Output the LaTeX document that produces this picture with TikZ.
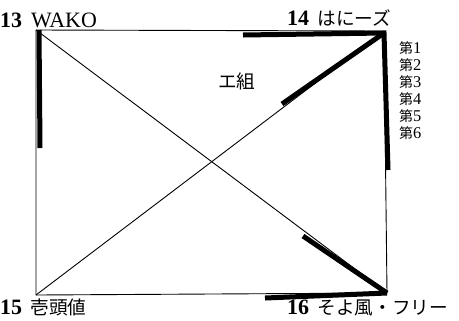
\documentclass[tikz,border=0pt]{standalone}
\usepackage{fontspec}
\setmainfont{Liberation Serif}
\newfontfamily\jp{Noto Sans CJK JP}[Scale=0.85]
\begin{document}
\begin{tikzpicture}[x=1bp, y=-1bp,
    team/.style={anchor=base west, inner sep=0pt, font=\fontsize{22}{24}\selectfont},
    rank/.style={anchor=base west, inner sep=0pt, text height=11bp, text depth=2bp,
      font=\fontsize{16.5}{18}\selectfont},
    edge/.style={line width=0.9bp},
    win/.style={line width=5bp}]
  \useasboundingbox (0,0) rectangle (459,320);

  %% the four teams sit on the corners
  \coordinate (c13) at (36,30);
  \coordinate (c14) at (384,31);
  \coordinate (c15) at (36,295);
  \coordinate (c16) at (387,293);

  \draw [edge] (c13) -- (c14) -- (c16) -- (c15) -- cycle;
  \draw [edge] (c13) -- (c16);
  \draw [edge] (c15) -- (c14);

  %% thick marks, from the winner part way along the line
  \coordinate (m13) at (39,30);
  \coordinate (w13) at (40,148);
  \coordinate (m14) at (384,33);
  \coordinate (w14a) at (243,35);
  \coordinate (w14b) at (388,170);
  \coordinate (w14c) at (282,104);
  \coordinate (w16a) at (303,236);
  \coordinate (w16b) at (265,298);
  \draw [win] (m13) -- (w13);
  \draw [win] (w14a) -- (m14) -- (w14b);
  \draw [win] (m14) -- (w14c);
  \draw [win] (c16) -- (w16a);
  \draw [win] (c16) -- (w16b);

  \node [team] (n13) at (0,27) {\textbf{13}\hspace{9bp}WAKO};
  \node [team] (n14) at (287,25) {\textbf{14}\hspace{3bp} {\jp はにーズ}};
  \node [team] (n15) at (0,314) {\textbf{15}\hspace{3bp} {\jp 壱頭値}};
  \node [team] (n16) at (287,314) {\textbf{16}\hspace{3bp} {\jp そよ風・フリー}};
  \node [team] (grp) at (218,88) {\jp エ組};

  \foreach \i in {1,...,6}
    \node [rank] (r\i) at (399,{36+17*\i}) {{\jp 第}\i};
\end{tikzpicture}
\end{document}
